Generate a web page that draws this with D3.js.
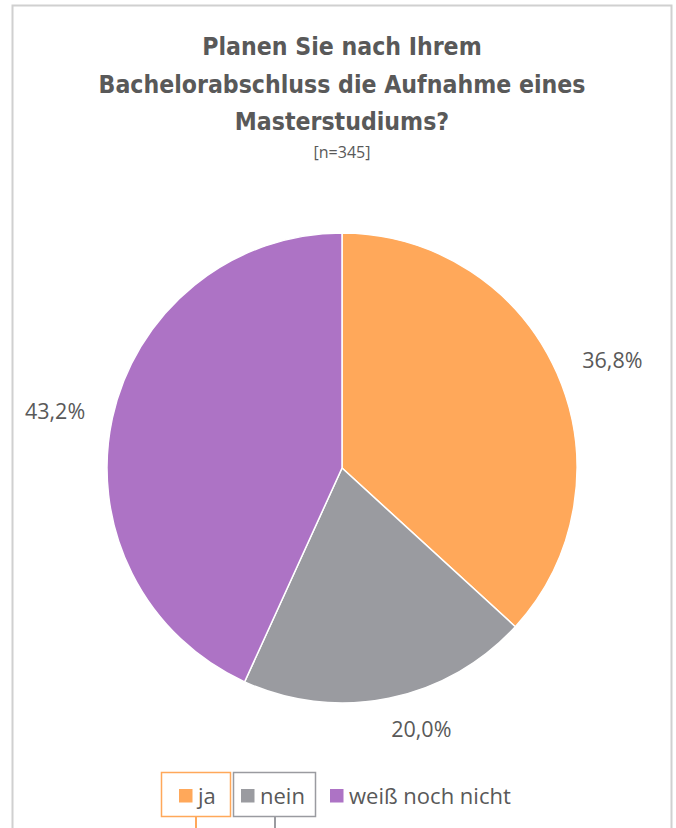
<!DOCTYPE html>
<html><head><meta charset="utf-8">
<script src="https://cdn.jsdelivr.net/npm/d3@7"></script>
<style>body{margin:0;background:#fff;} svg{display:block;}</style>
</head><body>
<svg id="c" width="676" height="828"></svg>
<script>
const categories = ["ja", "nein", "weiß noch nicht"];
const values = [36.8, 20.0, 43.2];
const colors = ["#FFA85A", "#9A9BA0", "#AD73C5"];
const titleLines = ["Planen Sie nach Ihrem", "Bachelorabschluss die Aufnahme eines", "Masterstudiums?"];
const subtitle = "[n=345]";

const svg = d3.select("#c");
const textColor = "#595959";
// frame
svg.append("path").attr("d","M12.5,828 V5.5 H671.5 V828").attr("fill","none").attr("stroke","#d0d0d0").attr("stroke-width",2);

const tg = svg.append("g").attr("font-family","'DejaVu Sans Condensed',sans-serif").attr("font-stretch","condensed").attr("font-weight","bold").attr("font-size",24.6).attr("fill",textColor).attr("text-anchor","middle");
titleLines.forEach((t,i)=>tg.append("text").attr("x",342).attr("y",55+i*37.5).text(t));
svg.append("text").attr("x",342).attr("y",158).attr("text-anchor","middle").attr("font-family","'Open Sans',sans-serif").attr("font-size",16).attr("fill",textColor).text(subtitle);

const cx=342, cy=468, r=235;
const pie = d3.pie().sort(null).value(d=>d);
const arcs = pie(values);
const arc = d3.arc().innerRadius(0).outerRadius(r);
const g = svg.append("g").attr("transform",`translate(${cx},${cy})`);
g.selectAll("path").data(arcs).join("path").attr("d",arc).attr("fill",(d,i)=>colors[i]).attr("stroke","#fff").attr("stroke-width",1.5);

const labelArc = d3.arc().innerRadius(r+32).outerRadius(r+32);
const fmt = v => v.toFixed(1).replace(".",",")+"%";
g.selectAll("text.lbl").data(arcs).join("text").attr("class","lbl")
 .attr("transform",d=>{const [x,y]=labelArc.centroid(d);return `translate(${x+Math.sign(x)*26},${y})`;})
 .attr("text-anchor","middle").attr("dy","0.36em")
 .attr("font-family","'Open Sans',sans-serif").attr("font-size",21.5).attr("fill",textColor)
 .text(d=>fmt(d.data));

// legend
const lg = svg.append("g").attr("font-family","'Open Sans',sans-serif").attr("font-size",22).attr("fill",textColor);
const items = [{x:161,w:69,lineX:196,sx:179},{x:233,w:82,lineX:275,sx:241},{x:323,w:0,sx:330}];
categories.forEach((c,i)=>{
  const it = items[i];
  if(it.w){
    lg.append("rect").attr("x",it.x+0.5).attr("y",772.5).attr("width",it.w).attr("height",44).attr("fill","#fff").attr("stroke",colors[i]).attr("stroke-width",1.5);
    lg.append("line").attr("x1",it.lineX).attr("x2",it.lineX).attr("y1",817).attr("y2",828).attr("stroke",colors[i]).attr("stroke-width",2);
  }
  lg.append("rect").attr("x",it.sx).attr("y",789).attr("width",13.5).attr("height",13.5).attr("fill",colors[i]);
  lg.append("text").attr("x",it.sx+19).attr("y",803.5).text(c);
});
</script>
</body></html>
